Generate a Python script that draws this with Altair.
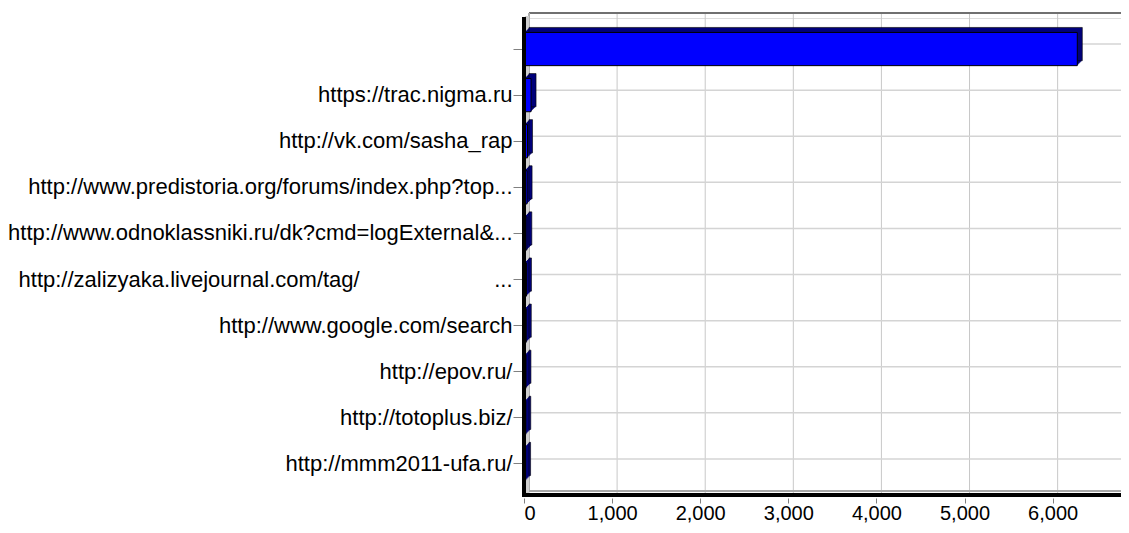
import altair as alt
import pandas as pd

categories = [
    "",
    "https://trac.nigma.ru",
    "http://vk.com/sasha_rap",
    "http://www.predistoria.org/forums/index.php?top...",
    "http://www.odnoklassniki.ru/dk?cmd=logExternal&...",
    "http://zalizyaka.livejournal.com/tag/" + "\u00a0" * 22 + "...",
    "http://www.google.com/search",
    "http://epov.ru/",
    "http://totoplus.biz/",
    "http://mmm2011-ufa.ru/",
]
values = [6280, 80, 40, 35, 32, 28, 26, 22, 20, 18]
x_ticks = [0, 1000, 2000, 3000, 4000, 5000, 6000]

W = 597
H = 477
D = 5  # 3D depth in px
FONT = "Liberation Sans"

bars_df = pd.DataFrame({"cat": categories, "value": values})
ticks_df = pd.DataFrame({"value": x_ticks})
cats_df = pd.DataFrame({"cat": categories})

xscale = alt.Scale(domain=[0, 6776], nice=False, zero=True)
yscale = alt.Scale(domain=categories, paddingInner=0.28, paddingOuter=0.3135)

xaxis = alt.Axis(
    values=x_ticks, format=",.0f", title=None, domain=False, grid=False,
    tickColor="#808080", tickSize=5, offset=3, labelPadding=0,
    labelFont=FONT, labelFontSize=20, labelColor="black",
)
yaxis = alt.Axis(
    title=None, domain=False, grid=False, tickColor="#808080",
    tickSize=9, offset=2, labelPadding=1, labelLimit=0,
    labelFont=FONT, labelFontSize=22, labelColor="black",
)

X = alt.X("value:Q", scale=xscale, axis=xaxis)
Y = alt.Y("cat:N", scale=yscale, sort=categories, axis=yaxis)

# back wall gridlines
vgrid = alt.Chart(ticks_df).mark_rule(
    color="#c8c8c8", strokeWidth=1, xOffset=D, yOffset=-D
).encode(x=X)
hgrid = alt.Chart(cats_df).mark_rule(
    color="#d4d4d4", strokeWidth=1.5, xOffset=D, yOffset=-D
).encode(y=Y)

# back wall top border and left edge
top_border = alt.Chart(cats_df).mark_rule(color="#707070", strokeWidth=1.5).encode(
    x=alt.value(D), x2=alt.value(W), y=alt.value(-D)
)
back_left = alt.Chart(cats_df).mark_rule(color="#b0b0b0", strokeWidth=1).encode(
    x=alt.value(D), y=alt.value(-D), y2=alt.value(H - D)
)
left_wall = alt.Chart(cats_df).mark_rule(color="#d0d0d0", strokeWidth=4).encode(
    x=alt.value(3), y=alt.value(-2), y2=alt.value(H - 2)
)
floor_edge = alt.Chart(cats_df).mark_rule(color="#a8a8a8", strokeWidth=1).encode(
    x=alt.value(D), x2=alt.value(W), y=alt.value(H - 4)
)

# bar extrusion (dark navy faces)
extr = []
for k in range(1, D + 1):
    extr.append(
        alt.Chart(bars_df).mark_bar(
            color="#00007a", xOffset=k, yOffset=-k,
            stroke="black" if k == D else None,
            strokeWidth=0.6 if k == D else 0,
        ).encode(x=X, y=Y)
    )

front = alt.Chart(bars_df).mark_bar(
    color="#0000ff", stroke="black", strokeWidth=1
).encode(x=X, y=Y)

left_axis = alt.Chart(cats_df).mark_rule(color="black", strokeWidth=3).encode(
    x=alt.value(0), y=alt.value(-1), y2=alt.value(H + 2)
)
bottom_axis = alt.Chart(cats_df).mark_rule(color="black", strokeWidth=4).encode(
    x=alt.value(-1.5), x2=alt.value(W), y=alt.value(H)
)

chart = alt.layer(
    vgrid, hgrid, top_border, back_left, left_wall, floor_edge,
    *extr, front, left_axis, bottom_axis
).properties(
    width=W, height=H,
    autosize=alt.AutoSizeParams(type="none"),
    padding={"left": 516, "top": 10, "right": 0, "bottom": 30},
).configure_view(stroke=None).configure(background="white")

chart.save("out.html", embed_options={"renderer": "svg", "actions": False})
